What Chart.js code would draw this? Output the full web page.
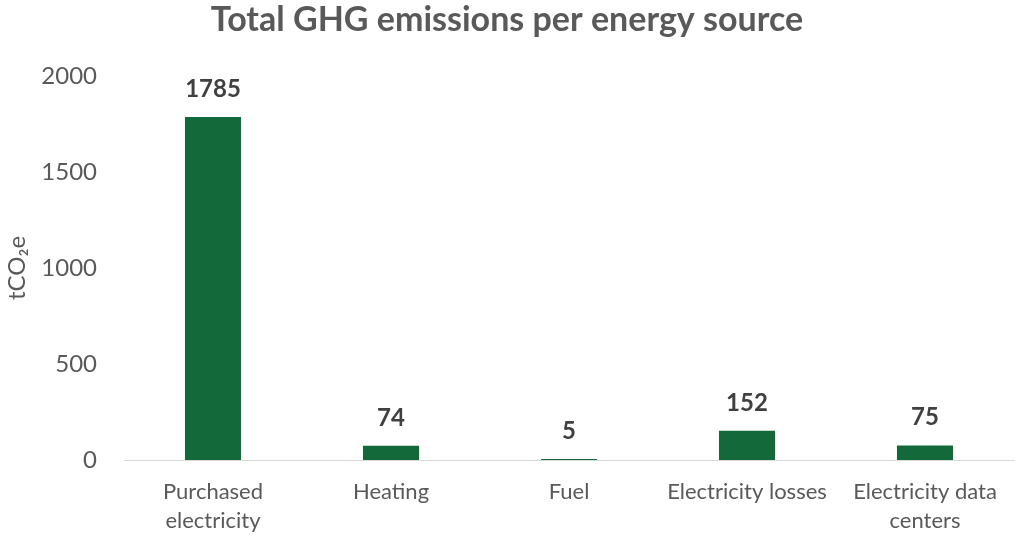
<!DOCTYPE html>
<html>
<head>
<meta charset="utf-8">
<script src="https://cdn.jsdelivr.net/npm/chart.js@4/dist/chart.umd.min.js"></script>
<style>
  html, body { margin: 0; padding: 0; background: #fff; }
  #wrap { width: 1015px; height: 535px; }
</style>
</head>
<body>
<div id="wrap"><canvas id="chart" width="1015" height="535"></canvas></div>
<script>
const categories = [['Purchased', 'electricity'], 'Heating', 'Fuel', 'Electricity losses', ['Electricity data', 'centers']];
const emissions = [1785, 74, 5, 152, 75];
const yTicks = [0, 500, 1000, 1500, 2000];

const barColor = '#13693A';
const textGrey = '#595959';
const fontFamily = 'Lato, "Open Sans", sans-serif';

// simple value labels above each bar
const valueLabels = {
    id: 'valueLabels',
    afterDatasetsDraw(chart) {
        const ctx = chart.ctx;
        const meta = chart.getDatasetMeta(0);
        ctx.save();
        ctx.font = 'bold 24px ' + fontFamily;
        ctx.fillStyle = '#404040';
        ctx.textAlign = 'center';
        ctx.textBaseline = 'middle';
        meta.data.forEach((bar, i) => {
            ctx.fillText(String(emissions[i]), bar.x, bar.y - 28);
        });
        ctx.restore();
    }
};

new Chart(document.getElementById('chart').getContext('2d'), {
    type: 'bar',
    data: {
        labels: categories,
        datasets: [{
            data: emissions,
            backgroundColor: barColor,
            borderWidth: 0,
            barPercentage: 0.63,
            categoryPercentage: 0.5
        }]
    },
    options: {
        responsive: false,
        animation: false,
        layout: { padding: { left: 0, right: 1, top: 0, bottom: 0 } },
        plugins: {
            legend: { display: false },
            tooltip: { enabled: false },
            title: {
                display: true,
                text: 'Total GHG emissions per energy source',
                color: textGrey,
                font: { family: fontFamily, size: 34, weight: 'bold' },
                padding: { top: 0, bottom: 35 }
            }
        },
        scales: {
            x: {
                grid: { display: false, drawTicks: false },
                border: { display: true, color: '#D9D9D9', width: 1 },
                ticks: {
                    color: textGrey,
                    font: { family: fontFamily, size: 22, lineHeight: 1.32 },
                    padding: 17,
                    maxRotation: 0,
                    autoSkip: false
                },
                afterFit(scale) { scale.height = 75; }
            },
            y: {
                min: 0,
                max: 2000,
                afterBuildTicks(scale) { scale.ticks = yTicks.map(v => ({ value: v })); },
                grid: { display: false, drawTicks: false },
                border: { display: false },
                ticks: {
                    color: textGrey,
                    font: { family: fontFamily, size: 24 },
                    padding: 27,
                    callback: (v) => String(v)
                },
                title: {
                    display: true,
                    text: 'tCO₂e',
                    color: textGrey,
                    font: { family: fontFamily, size: 24 },
                    padding: { top: 3, bottom: 0 }
                },
                afterFit(scale) { scale.width = 124; }
            }
        }
    },
    plugins: [valueLabels]
});
</script>
</body>
</html>
